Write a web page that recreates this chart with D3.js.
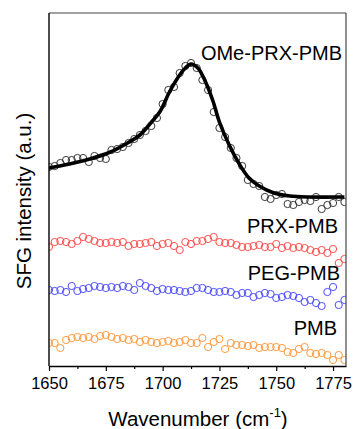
<!DOCTYPE html>
<html>
<head>
<meta charset="utf-8">
<script src="https://cdn.jsdelivr.net/npm/d3@7"></script>
<style>
  body { margin: 0; background: #fff; }
  svg text { font-family: "Liberation Sans", Arial, sans-serif; fill: #000; }
</style>
</head>
<body>
<div id="chart"></div>
<script>
// wavenumber (cm-1) of every measured point
const wavenumbers = [1650, 1652.5, 1655, 1657.5, 1660, 1662.5, 1665, 1667.5, 1670, 1672.5,
    1675, 1677.5, 1680, 1682.5, 1685, 1687.5, 1690, 1692.5, 1695, 1697.5,
    1700, 1702.5, 1705, 1707.5, 1710, 1712.5, 1715, 1717.5, 1720, 1722.5,
    1725, 1727.5, 1730, 1732.5, 1735, 1737.5, 1740, 1742.5, 1745, 1747.5,
    1750, 1752.5, 1755, 1757.5, 1760, 1762.5, 1765, 1767.5, 1770, 1772.5,
    1775, 1777.5, 1780];

// SFG intensity, traces offset vertically (a.u.)
const omePrxPmb = [1.99, 2.00, 2.03, 2.06, 2.06, 2.08, 2.08, 2.04, 2.10, 2.08,
    2.07, 2.16, 2.17, 2.19, 2.23, 2.27, 2.31, 2.35, 2.40, 2.48,
    2.62, 2.76, 2.79, 2.93, 3.00, 3.03, 2.98, 2.86, 2.76, 2.54,
    2.38, 2.29, 2.18, 2.08, 2.00, 1.86, 1.82, 1.80, 1.69, 1.67,
    1.71, 1.72, 1.62, 1.61, 1.64, 1.66, 1.65, 1.69, 1.57, 1.61,
    1.63, 1.69, 1.64];

const prxPmb = [1.19, 1.24, 1.25, 1.24, 1.22, 1.25, 1.29, 1.27, 1.25, 1.23,
    1.23, 1.24, 1.23, 1.24, 1.20, 1.22, 1.22, 1.23, 1.24, 1.20,
    1.22, 1.23, 1.20, 1.16, 1.24, 1.22, 1.25, 1.25, 1.27, 1.29,
    1.24, 1.23, 1.23, 1.21, 1.19, 1.19, 1.20, 1.21, 1.19, 1.19,
    1.22, 1.18, 1.20, 1.18, 1.19, 1.18, 1.16, 1.14, 1.16, 1.13,
    1.17, 1.03, 1.07];

const pegPmb = [0.76, 0.75, 0.76, 0.74, 0.80, 0.75, 0.77, 0.78, 0.80, 0.79,
    0.78, 0.79, 0.78, 0.80, 0.79, 0.76, 0.83, 0.80, 0.78, 0.75,
    0.77, 0.76, 0.76, 0.75, 0.74, 0.75, 0.78, 0.78, 0.76, 0.74,
    0.74, 0.75, 0.74, 0.71, 0.73, 0.73, 0.69, 0.71, 0.73, 0.72,
    0.68, 0.69, 0.71, 0.70, 0.68, 0.64, 0.66, 0.63, 0.60, 0.74,
    0.79, 0.61, 0.66];

const pmb = [0.23, 0.23, 0.18, 0.26, 0.28, 0.29, 0.28, 0.29, 0.27, 0.30,
    0.31, 0.29, 0.27, 0.28, 0.26, 0.27, 0.24, 0.26, 0.24, 0.23,
    0.24, 0.25, 0.23, 0.24, 0.26, 0.23, 0.23, 0.28, 0.19, 0.24,
    0.27, 0.17, 0.23, 0.21, 0.21, 0.20, 0.21, 0.18, 0.19, 0.19,
    0.19, 0.18, 0.14, 0.13, 0.17, 0.19, 0.13, 0.12, 0.13, 0.11,
    0.06, 0.11, 0.06];

// fitted curve for OMe-PRX-PMB
const fitX = [1650, 1659, 1668, 1677, 1683, 1690, 1694, 1699, 1703, 1707.5,
    1710, 1712.5, 1715.5, 1718.5, 1722, 1725, 1729.5, 1734, 1738, 1742.5,
    1749, 1756, 1764.5, 1780];
const fitY = [1.98, 2.02, 2.07, 2.14, 2.21, 2.31, 2.41, 2.55, 2.74, 2.91,
    2.98, 3.02, 2.98, 2.86, 2.66, 2.44, 2.20, 2.01, 1.88, 1.80,
    1.73, 1.70, 1.69, 1.69];

const seriesNames = ["OMe-PRX-PMB", "PRX-PMB", "PEG-PMB", "PMB"];
const xTicks = [1650, 1675, 1700, 1725, 1750, 1775];

const W = 357, H = 429;
const margin = {top: 13, right: 11, bottom: 63, left: 49};
const width = W - margin.left - margin.right,
    height = H - margin.top - margin.bottom;

const svg = d3.select("#chart").append("svg")
    .attr("width", W)
    .attr("height", H);

const g = svg.append("g")
    .attr("transform", "translate(" + margin.left + "," + margin.top + ")");

const x = d3.scaleLinear().domain([1650, 1780.7]).range([0, width]);
const y = d3.scaleLinear().domain([0, 3.53]).range([height, 0]);

svg.append("clipPath").attr("id", "plotclip")
    .append("rect").attr("width", width).attr("height", height);

const plot = g.append("g").attr("clip-path", "url(#plotclip)");

const series = [
    {name: seriesNames[0], values: omePrxPmb, color: "#3a3a3a", label: [342, 60]},
    {name: seriesNames[1], values: prxPmb, color: "#ff4d4d", label: [338, 233]},
    {name: seriesNames[2], values: pegPmb, color: "#4d4dff", label: [340, 280]},
    {name: seriesNames[3], values: pmb, color: "#ff9a3c", label: [337, 335]}
];

series.forEach(s => {
    plot.append("g")
        .selectAll("circle")
        .data(s.values)
        .enter().append("circle")
        .attr("cx", (d, i) => x(wavenumbers[i]))
        .attr("cy", d => y(d))
        .attr("r", 3.6)
        .attr("fill", "none")
        .attr("stroke", s.color)
        .attr("stroke-width", 1);
});

const fitLine = d3.line()
    .x(d => x(d[0]))
    .y(d => y(d[1]))
    .curve(d3.curveCatmullRom);

plot.append("path")
    .datum(fitX.map((v, i) => [v, fitY[i]]))
    .attr("fill", "none")
    .attr("stroke", "#000")
    .attr("stroke-width", 3.6)
    .attr("d", fitLine);

// frame: top/right thin grey, left/bottom black
g.append("line").attr("x1", 0).attr("x2", width).attr("y1", 0).attr("y2", 0)
    .attr("stroke", "#444").attr("stroke-width", 1.2);
g.append("line").attr("x1", width).attr("x2", width).attr("y1", 0).attr("y2", height)
    .attr("stroke", "#444").attr("stroke-width", 1.2);
g.append("line").attr("x1", 0).attr("x2", 0).attr("y1", 0).attr("y2", height)
    .attr("stroke", "#000").attr("stroke-width", 1.4);

const minorTicks = xTicks.map(t => t + 12.5).filter(t => t < 1780);
const axisMinor = g.append("g")
    .attr("transform", "translate(0," + height + ")")
    .call(d3.axisBottom(x).tickValues(minorTicks).tickSize(3).tickFormat(""));
axisMinor.select(".domain").remove();
axisMinor.selectAll("line").attr("stroke", "#000").attr("stroke-width", 1.2);

const axisX = g.append("g")
    .attr("transform", "translate(0," + height + ")")
    .call(d3.axisBottom(x).tickValues(xTicks).tickSize(5).tickSizeOuter(0).tickPadding(6).tickFormat(d3.format("d")));
axisX.select(".domain").attr("stroke", "#000").attr("stroke-width", 1.4);
axisX.selectAll("line").attr("stroke", "#000").attr("stroke-width", 1.2);
axisX.selectAll("text")
    .attr("font-family", "Liberation Sans, Arial, sans-serif")
    .attr("font-size", "16.5px")
    .attr("fill", "#000");

// series labels
series.forEach(s => {
    svg.append("text")
        .attr("x", s.label[0])
        .attr("y", s.label[1])
        .attr("text-anchor", "end")
        .attr("font-size", "20px")
        .text(s.name);
});

// axis titles
svg.append("text")
    .attr("transform", "translate(31," + 201 + ") rotate(-90)")
    .attr("text-anchor", "middle")
    .attr("font-size", "20.5px")
    .text("SFG intensity (a.u.)");

const xt = svg.append("text")
    .attr("x", 198)
    .attr("y", 426)
    .attr("text-anchor", "middle")
    .attr("font-size", "20.5px");
xt.append("tspan").text("Wavenumber (cm");
xt.append("tspan").attr("font-size", "13px").attr("dy", -9).text("-1");
xt.append("tspan").attr("dy", 9).text(")");
</script>
</body>
</html>
